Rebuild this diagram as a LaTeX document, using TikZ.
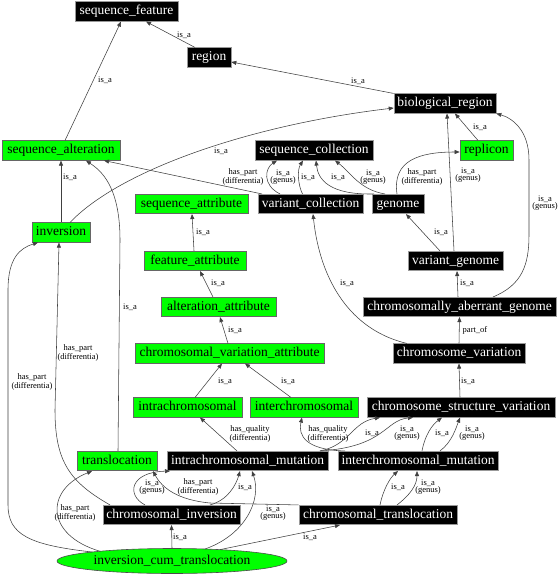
\documentclass[tikz,border=0pt]{standalone}
\usepackage{fontspec}
\setmainfont{Liberation Serif}
\usetikzlibrary{arrows.meta,shapes.geometric}
\begin{document}
\begin{tikzpicture}[x=1pt,y=-1pt,
  base/.style={inner sep=0pt, minimum height=19.5pt, text height=9.5pt, text depth=3pt,
    line width=0.6pt, font=\fontsize{13.5}{14}\selectfont},
  bk/.style={base, draw=black!40, fill=black, text=white},
  gr/.style={base, draw=black!60, fill=green, text=black},
  edge/.style={draw=black!75, line width=0.55pt, -{Triangle[length=5pt,width=4pt]}},
  lbl/.style={font=\fontsize{8.5}{7.5}\selectfont, align=center, inner sep=0pt, text=black}
]
\fill[white] (0,0) rectangle (559,576);
\useasboundingbox (0,0) rectangle (559,576);

% nodes
\node[bk, minimum width=103pt] (sf) at (126.5,11.5) {sequence\_feature};
\node[bk, minimum width=44pt] (rg) at (209,57.5) {region};
\node[bk, minimum width=102pt] (br) at (445,103.5) {biological\_region};
\node[gr, minimum width=118pt] (sa) at (61,150.5) {sequence\_alteration};
\node[bk, minimum width=118pt] (sc) at (314,150.5) {sequence\_collection};
\node[gr, minimum width=53pt] (rp) at (486.5,150.5) {replicon};
\node[gr, minimum width=113pt] (sat) at (191.5,204) {sequence\_attribute};
\node[bk, minimum width=105pt] (vc) at (310.5,204) {variant\_collection};
\node[bk, minimum width=52pt] (gn) at (398,204) {genome};
\node[gr, minimum width=58pt] (inv) at (61,232.5) {inversion};
\node[bk, minimum width=95pt] (vg) at (455.5,261) {variant\_genome};
\node[gr, minimum width=102pt] (fa) at (195,261) {feature\_attribute};
\node[gr, minimum width=115pt] (aa) at (218.5,307) {alteration\_attribute};
\node[bk, minimum width=193pt] (cag) at (459.5,307) {chromosomally\_aberrant\_genome};
\node[gr, minimum width=189pt] (cva) at (229.5,353.5) {chromosomal\_variation\_attribute};
\node[bk, minimum width=132pt] (cv) at (459,353.5) {chromosome\_variation};
\node[gr, minimum width=109pt] (ia) at (187.5,407.5) {intrachromosomal};
\node[gr, minimum width=108pt] (ie) at (304,407.5) {interchromosomal};
\node[bk, minimum width=188pt] (csv) at (461,407.5) {chromosome\_structure\_variation};
\node[gr, minimum width=80pt] (tl) at (117,461) {translocation};
\node[bk, minimum width=161pt] (im) at (247.5,461) {intrachromosomal\_mutation};
\node[bk, minimum width=160pt] (em) at (418,461) {interchromosomal\_mutation};
\node[bk, minimum width=137pt] (ci) at (171.5,515) {chromosomal\_inversion};
\node[bk, minimum width=158pt] (ct) at (378,515) {chromosomal\_translocation};
\node[ellipse, draw=black!70, fill=green, line width=0.6pt, inner sep=0pt,
  minimum width=230pt, minimum height=25pt, text height=9.5pt, text depth=3pt,
  font=\fontsize{13.5}{14}\selectfont] (ict) at (172,561) {inversion\_cum\_translocation};

% edges
\draw[edge] ([xshift=-14pt]rg.north) -- ([xshift=19.5pt]sf.south);
\node[lbl] (l1) at (184,35) {is\_a};
\draw[edge] ([xshift=4pt]sa.north) -- ([xshift=-5.5pt]sf.south);
\node[lbl] (l2) at (105,80) {is\_a};
\draw[edge] (br.north west) -- ([yshift=-4.5pt]rg.east);
\node[lbl] (l3) at (358,81) {is\_a};
\draw[edge] ([xshift=9pt]inv.north) .. controls (120,170) and (250,125) .. ([yshift=-4.5pt]br.west);
\node[lbl] (l4) at (221,151) {is\_a};
\draw[edge] (inv.north) -- (sa.south);
\node[lbl] (l5) at (70,177) {is\_a};
\draw[edge] ([xshift=1pt]tl.north) -- (120,240) .. controls (120,185) and (100,170) .. ([xshift=25pt]sa.south);
\node[lbl] (l6) at (130,307) {is\_a};
\draw[edge] ([xshift=-48.5pt]vc.north) -- ([xshift=43pt]sa.south);
\node[lbl] (l7) at (243,177) {has\_part\\(differentia)};
\draw[edge] ([xshift=-30.5pt]vc.north) .. controls (262,185) and (265,168) .. ([xshift=-37pt]sc.south);
\node[lbl] (l8) at (283,177) {is\_a\\(genus)};
\draw[edge] ([xshift=-8pt]vc.north) .. controls (298,185) and (297,170) .. ([xshift=-11pt]sc.south);
\node[lbl] (l9) at (308,177) {is\_a};
\draw[edge] ([xshift=-24pt]gn.north) .. controls (330,195) and (318,180) .. ([xshift=2pt]sc.south);
\node[lbl] (l10) at (338,177) {is\_a};
\draw[edge] ([xshift=-13pt]gn.north) .. controls (360,190) and (350,172) .. ([xshift=21pt]sc.south);
\node[lbl] (l11) at (373,177) {is\_a\\(genus)};
\draw[edge] ([xshift=-1pt]gn.north) .. controls (392,160) and (420,152) .. ([yshift=-1.5pt]rp.west);
\node[lbl] (l12) at (422,177) {has\_part\\(differentia)};
\draw[edge] ([xshift=-8.5pt]rp.north) -- ([xshift=10pt]br.south);
\node[lbl] (l13) at (480,127) {is\_a};
\draw[edge] ([xshift=-1.5pt]vg.north) -- ([xshift=2pt]br.south);
\node[lbl] (l14) at (468,175) {is\_a\\(genus)};
\draw[edge] ([xshift=33.5pt]cag.north) .. controls (522,285) and (529,265) .. (529,235) -- (529,160) .. controls (529,130) and (512,118) .. (br.south east);
\node[lbl] (l15) at (545,203) {is\_a\\(genus)};
\draw[edge] ([xshift=-15.5pt]vg.north) -- ([xshift=8pt]gn.south);
\node[lbl] (l16) at (441,232) {is\_a};
\draw[edge] ([xshift=-52pt]cv.north) .. controls (350,330) and (320,280) .. ([xshift=2.5pt]vc.south);
\node[lbl] (l17) at (347,283) {is\_a};
\draw[edge] ([xshift=-1.5pt]cag.north) -- ([xshift=1.5pt]vg.south);
\node[lbl] (l18) at (467,283) {is\_a};
\draw[edge] (cv.north) -- (cag.south);
\node[lbl] (l19) at (475,330) {part\_of};
\draw[edge] ([xshift=-1pt]csv.north) -- (cv.south);
\node[lbl] (l20) at (468,381) {is\_a};
\draw[edge] ([xshift=-1pt]fa.north) -- ([xshift=0.5pt]sat.south);
\node[lbl] (l21) at (203,232) {is\_a};
\draw[edge] ([xshift=-5.5pt]aa.north) -- ([xshift=5pt]fa.south);
\node[lbl] (l22) at (218,283) {is\_a};
\draw[edge] ([xshift=-1.5pt]cva.north) -- ([xshift=1.5pt]aa.south);
\node[lbl] (l23) at (235,330) {is\_a};
\draw[edge] ([xshift=7.5pt]ia.north) -- ([xshift=-7.5pt]cva.south);
\node[lbl] (l24) at (225,381) {is\_a};
\draw[edge] ([xshift=-13pt]ie.north) -- ([xshift=15.5pt]cva.south);
\node[lbl] (l25) at (288,381) {is\_a};
\draw[edge] ([xshift=-10.5pt]im.north) -- ([xshift=12.5pt]ia.south);
\node[lbl] (l26) at (250,434) {has\_quality\\(differentia)};
\draw[edge] ([xshift=-73pt]em.north) .. controls (305,450) and (298,435) .. ([xshift=-2pt]ie.south);
\node[lbl] (l27) at (328,434) {has\_quality\\(differentia)};
\draw[edge] ([xshift=72.5pt]im.north) .. controls (350,445) and (352,422) .. ([xshift=-81pt]csv.south);
\node[lbl] (l28) at (372,433) {is\_a};
\draw[edge] ([xshift=72.5pt]im.north) .. controls (385,447) and (385,420) .. ([xshift=-48pt]csv.south);
\node[lbl] (l29) at (407,433) {is\_a\\(genus)};
\draw[edge] ([xshift=4pt]em.north) .. controls (425,435) and (432,425) .. ([xshift=-19pt]csv.south);
\node[lbl] (l30) at (442,433) {is\_a};
\draw[edge] ([xshift=22pt]em.north) .. controls (452,442) and (456,428) .. ([xshift=-1pt]csv.south);
\node[lbl] (l31) at (472,433) {is\_a\\(genus)};
\draw[edge] ([xshift=2pt]ct.north) .. controls (383,490) and (390,478) .. ([xshift=-20pt]em.south);
\node[lbl] (l32) at (398,487) {is\_a};
\draw[edge] ([xshift=19pt]ct.north) .. controls (410,495) and (417,485) .. ([xshift=-1pt]em.south);
\node[lbl] (l33) at (428,487) {is\_a\\(genus)};
\draw[edge] ([xshift=-26.5pt]ci.north) .. controls (126,495) and (130,472) .. ([xshift=-77.5pt]im.south);
\node[lbl] (l34) at (152,487) {is\_a\\(genus)};
\draw[edge] (ct.north west) -- (210,503) .. controls (178,500) and (162,488) .. ([xshift=36pt]tl.south);
\node[lbl] (l35) at (198,487) {has\_part\\(differentia)};
\draw[edge] ([xshift=38.5pt]ci.north) .. controls (228,500) and (236,485) .. ([xshift=-7.5pt]im.south);
\node[lbl] (l36) at (245,487) {is\_a};
\draw[edge] ([xshift=-61.5pt]ci.north) .. controls (70,482) and (55,462) .. (55,410) -- ([xshift=-2pt]inv.south);
\node[lbl] (l37) at (78,353) {has\_part\\(differentia)};
\draw[edge] ([xshift=-80pt,yshift=9pt]ict.center) .. controls (30,545) and (8,535) .. (8,505) -- (8,290) .. controls (8,258) and (20,248) .. ([xshift=-23pt]inv.south);
\node[lbl] (l38) at (32,382) {has\_part\\(differentia)};
\draw[edge] ([xshift=-72pt,yshift=9.75pt]ict.center) .. controls (45,535) and (45,490) .. ([xshift=-25pt]tl.south);
\node[lbl] (l39) at (75,513) {has\_part\\(differentia)};
\draw[edge] (ict.north) -- (ci.south);
\node[lbl] (l40) at (180,537) {is\_a};
\draw[edge] ([xshift=48pt,yshift=11.4pt]ict.center) -- ([xshift=-38pt]ct.south);
\node[lbl] (l41) at (310,537) {is\_a};
\draw[edge] ([xshift=33pt,yshift=12pt]ict.center) .. controls (245,535) and (262,500) .. ([xshift=4.5pt]im.south);
\node[lbl] (l42) at (273,513) {is\_a\\(genus)};
\end{tikzpicture}
\end{document}
